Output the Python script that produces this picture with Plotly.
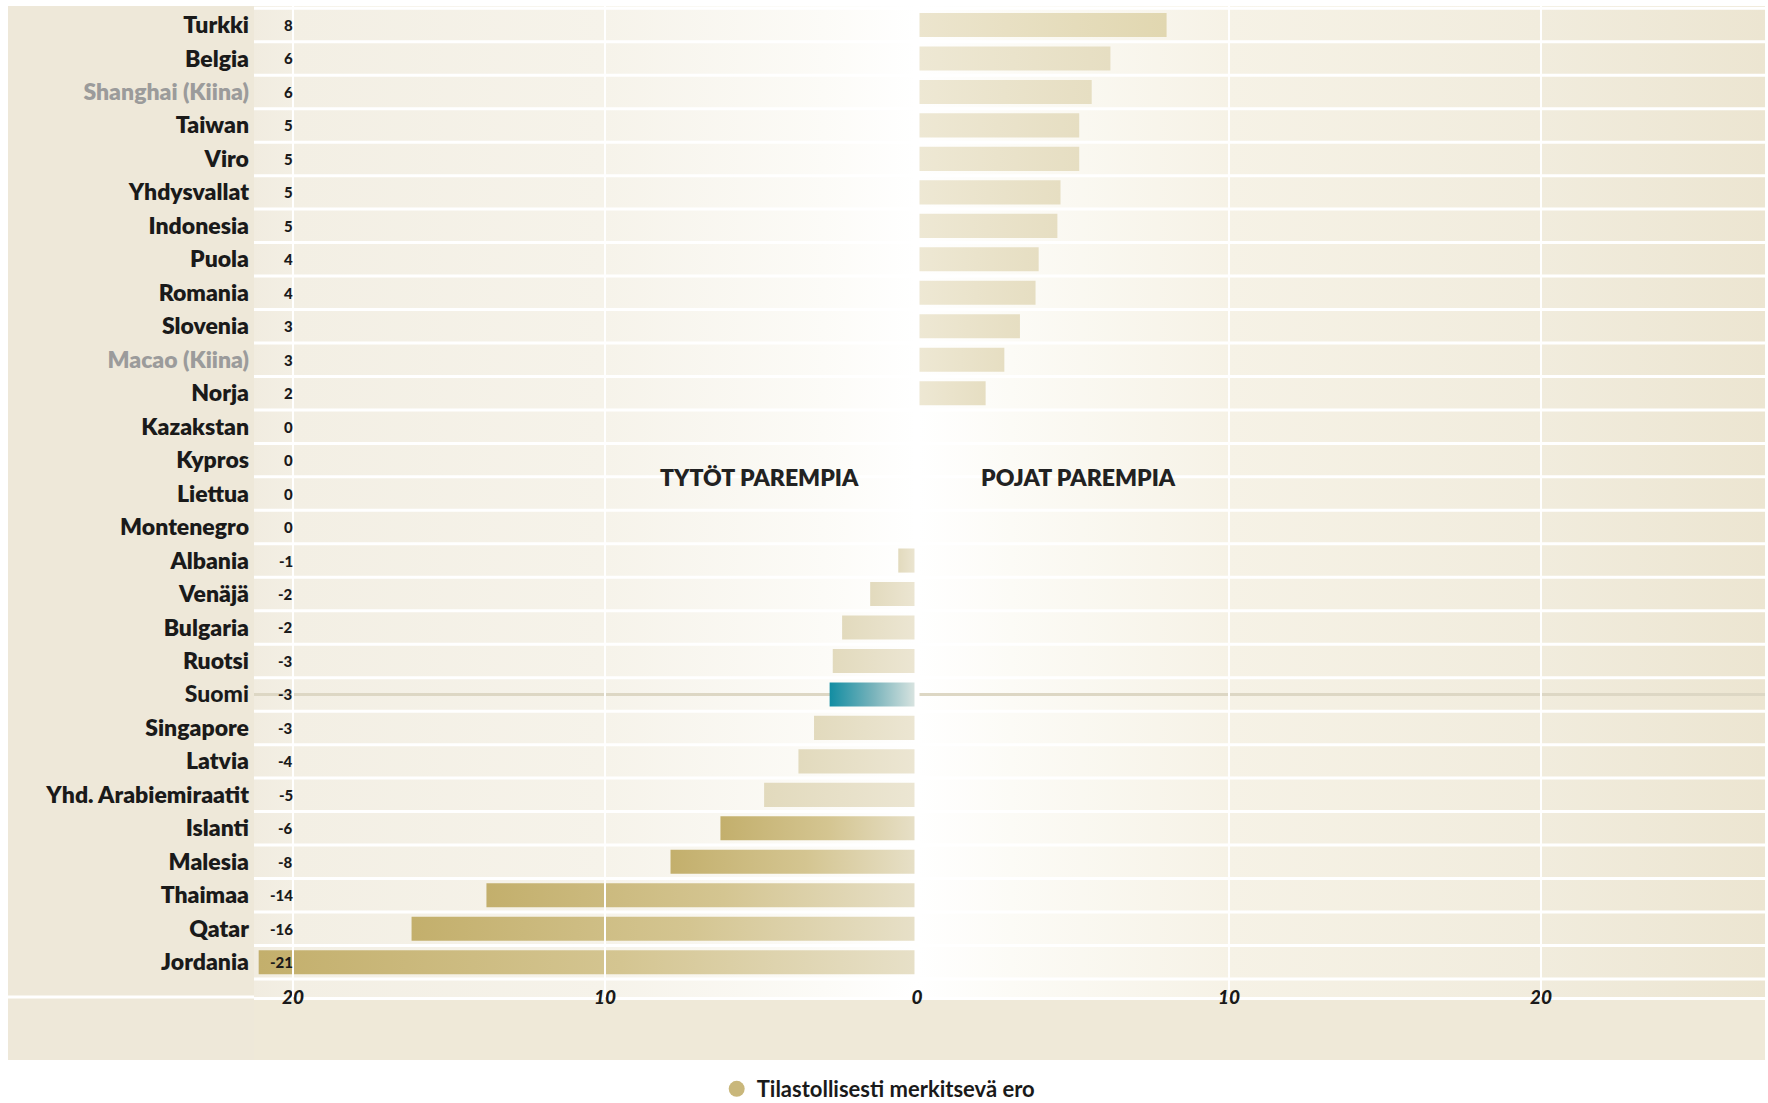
import plotly.graph_objects as go

# ---------------- data ----------------
countries = ["Turkki", "Belgia", "Shanghai (Kiina)", "Taiwan", "Viro", "Yhdysvallat",
             "Indonesia", "Puola", "Romania", "Slovenia", "Macao (Kiina)", "Norja",
             "Kazakstan", "Kypros", "Liettua", "Montenegro", "Albania", "Venäjä",
             "Bulgaria", "Ruotsi", "Suomi", "Singapore", "Latvia", "Yhd. Arabiemiraatit",
             "Islanti", "Malesia", "Thaimaa", "Qatar", "Jordania"]
differences = [8.0, 6.2, 5.6, 5.2, 5.2, 4.6, 4.5, 3.9, 3.8, 3.3, 2.8, 2.2,
               0, 0, 0, 0, -0.6, -1.5, -2.4, -2.7, -2.8, -3.3, -3.8, -4.9,
               -6.3, -7.9, -13.8, -16.2, -21.1]
value_labels = ["8", "6", "6", "5", "5", "5", "5", "4", "4", "3", "3", "2",
                "0", "0", "0", "0", "-1", "-2", "-2", "-3", "-3", "-3", "-4", "-5",
                "-6", "-8", "-14", "-16", "-21"]
significant = [False, False, False, False, False, False, False, False, False, False,
               False, False, False, False, False, False, False, False, False, False,
               False, False, False, False, True, True, True, True, True]
grey_names = ["Shanghai (Kiina)", "Macao (Kiina)"]
highlight = "Suomi"
x_tick_vals = [-20, -10, 0, 10, 20]
x_tick_text = ["20", "10", "0", "10", "20"]
girls_label = "TYTÖT PAREMPIA"
boys_label = "POJAT PAREMPIA"
legend_label = "Tilastollisesti merkitsevä ero"

# ---------------- style ----------------
FONT = "Lato, Roboto, Liberation Sans, sans-serif"
INK = "#1a1a1a"
W, H = 1768, 1103
L, R, T, B = 254, 3, 6, 106
X_RANGE = [-21.25, 27.18]
Y_RANGE = [29.04, -0.568]
HALF = 0.36

CS_SIG = [[0, "#C3AF6C"], [0.55, "#D4C591"], [1, "#E7E0C8"]]
CS_NEG = [[0, "#E2DABD"], [1, "#ECE6D3"]]
CS_POS = [[0, "#EEE8D4"], [1, "#E6DEC2"]]
CS_POS_STRONG = [[0, "#ECE5CE"], [1, "#E1D7B0"]]
CS_HL = [[0, "#128DA2"], [0.5, "#78B3BB"], [1, "#DDE6E2"]]


def pos(x):
    return (x - X_RANGE[0]) / (X_RANGE[1] - X_RANGE[0])


BG_CS = [[0, "#F1ECE0"], [pos(-20), "#F3EFE4"], [pos(-10), "#F6F3EA"],
         [pos(-3), "#FCFBF7"], [pos(0), "#FFFFFF"], [pos(3), "#FCFBF6"],
         [pos(10), "#F6F2E6"], [pos(20), "#F1ECDD"], [1, "#ECE5D1"]]

fig = go.Figure()

# background panel gradient
fig.add_trace(go.Scatter(
    x=[X_RANGE[0], X_RANGE[1], X_RANGE[1], X_RANGE[0], X_RANGE[0]],
    y=[Y_RANGE[1], Y_RANGE[1], Y_RANGE[0], Y_RANGE[0], Y_RANGE[1]],
    fill="toself", mode="none", hoverinfo="skip", showlegend=False,
    fillgradient=dict(type="horizontal", colorscale=BG_CS)))

# highlight row line (Suomi)
hl_idx = countries.index(highlight)
fig.add_trace(go.Scatter(x=[X_RANGE[0], X_RANGE[1]], y=[hl_idx, hl_idx], mode="lines",
                         line=dict(color="#DDD7C4", width=3), hoverinfo="skip",
                         showlegend=False))

# bars
for i, (c, v, s) in enumerate(zip(countries, differences, significant)):
    if v == 0:
        continue
    if c == highlight:
        cs = CS_HL
    elif s:
        cs = CS_SIG
    elif v > 0:
        cs = CS_POS_STRONG if v >= 7.5 else CS_POS
    else:
        cs = CS_NEG
    fig.add_trace(go.Scatter(
        x=[0, v, v, 0, 0], y=[i - HALF, i - HALF, i + HALF, i + HALF, i - HALF],
        fill="toself", mode="none", hoverinfo="skip", showlegend=False, name=c,
        fillgradient=dict(type="horizontal", colorscale=cs)))

# legend entry
fig.add_trace(go.Scatter(x=[None], y=[None], mode="markers", name=legend_label,
                         marker=dict(size=22, color="#C9B77B"), showlegend=True))

# tick texts for categories
tick_text = []
for c in countries:
    if c in grey_names:
        tick_text.append(f"<span style='color:#9b9b9b'>{c}</span>")
    elif c == highlight:
        tick_text.append(f"<span style='font-weight:900'>{c}</span>")
    else:
        tick_text.append(c)

plot_w = W - L - R
plot_h = H - T - B
left_paper = -(L - 8) / plot_w
band_paper = -(1060 - (H - B)) / plot_h

shapes = [
    dict(type="rect", xref="paper", yref="paper", x0=left_paper, x1=0, y0=band_paper, y1=1,
         fillcolor="#EEE8D9", line=dict(width=0), layer="below"),
    dict(type="rect", xref="paper", yref="paper", x0=0, x1=1, y0=band_paper, y1=0,
         fillcolor="#EFE9D8", line=dict(width=0), layer="below"),
    dict(type="line", xref="paper", yref="paper", x0=left_paper, x1=0, y0=0, y1=0,
         line=dict(color="white", width=3), layer="below"),
]
for k in range(-1, len(countries)):
    shapes.append(dict(type="line", xref="x", yref="y", x0=X_RANGE[0], x1=X_RANGE[1],
                       y0=k + 0.5, y1=k + 0.5, line=dict(color="white", width=3),
                       layer="above"))
for xv in [-20, -10, 10, 20]:
    shapes.append(dict(type="line", xref="x", yref="paper", x0=xv, x1=xv, y0=0, y1=1,
                       line=dict(color="white", width=2), layer="above"))
shapes.append(dict(type="line", xref="x", yref="y", x0=0, x1=0, y0=-0.5, y1=len(countries) - 0.5,
                   line=dict(color="white", width=5), layer="above"))

annotations = []
for i, t in enumerate(value_labels):
    annotations.append(dict(x=-19.95, y=i, xref="x", yref="y", text=t, showarrow=False,
                            xanchor="right", yanchor="middle",
                            font=dict(family=FONT, size=15, color=INK, weight=900)))
annotations.append(dict(x=-1.8, y=13.5, xref="x", yref="y", text=girls_label, showarrow=False,
                        xanchor="right", yanchor="middle",
                        font=dict(family=FONT, size=23, color="#222222", weight=800)))
annotations.append(dict(x=2, y=13.5, xref="x", yref="y", text=boys_label, showarrow=False,
                        xanchor="left", yanchor="middle",
                        font=dict(family=FONT, size=23, color="#222222", weight=800)))

fig.update_layout(
    width=W, height=H,
    margin=dict(l=L, r=R, t=T, b=B, pad=0, autoexpand=False),
    paper_bgcolor="white", plot_bgcolor="white",
    shapes=shapes, annotations=annotations,
    showlegend=True,
    legend=dict(orientation="h", xref="container", yref="container",
                x=0.497, xanchor="center", y=1 - 1089 / H, yanchor="middle",
                font=dict(family=FONT, size=22, color=INK, weight="bold"),
                bgcolor="rgba(0,0,0,0)", itemsizing="trace"),
    xaxis=dict(range=X_RANGE, showgrid=False, zeroline=False, showline=True,
               linecolor="white", linewidth=3, ticks="", tickvals=x_tick_vals,
               ticktext=x_tick_text, ticklabelstandoff=-19, fixedrange=True,
               automargin=False,
               tickfont=dict(family=FONT, size=19, color=INK, weight=900, style="italic")),
    yaxis=dict(range=Y_RANGE, showgrid=False, zeroline=False, showline=False, ticks="",
               tickvals=list(range(len(countries))), ticktext=tick_text,
               ticklabelstandoff=4, fixedrange=True, automargin=False,
               tickfont=dict(family=FONT, size=23, color=INK, weight=800)),
)

fig.write_html("out.html")
